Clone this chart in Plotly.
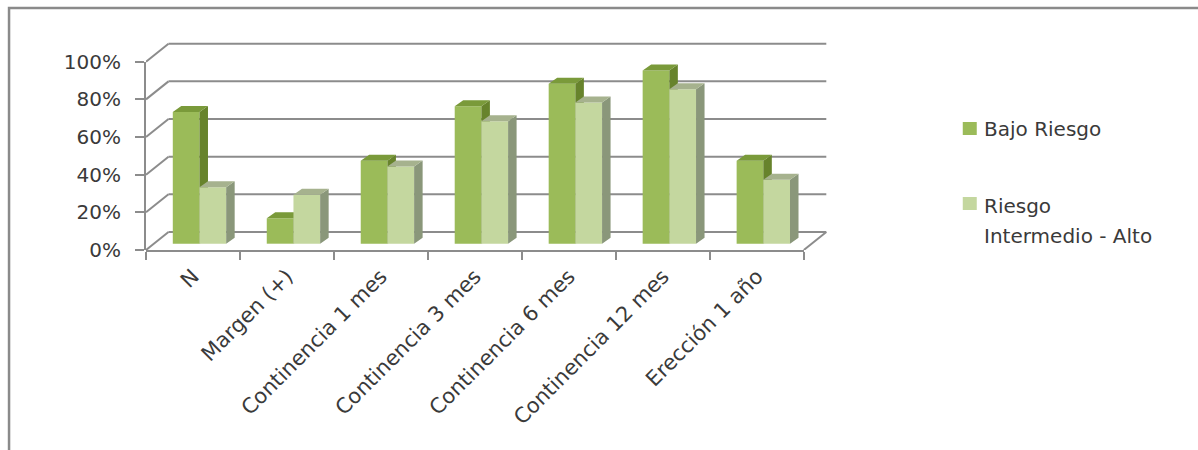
import plotly.graph_objects as go

# ---------------- data ----------------
categories = ["N", "Margen (+)", "Continencia 1 mes", "Continencia 3 mes",
              "Continencia 6 mes", "Continencia 12 mes", "Erección 1 año"]
bajo_riesgo = [70, 13.5, 44, 73, 85, 92, 44]
riesgo_intermedio_alto = [30, 26, 41, 65, 75, 82, 34]
series_names = ["Bajo Riesgo", "Riesgo Intermedio - Alto"]
legend_lines = [["Bajo Riesgo"], ["Riesgo", "Intermedio - Alto"]]
y_tickvals = [0, 20, 40, 60, 80, 100]
y_ticktext = ["0%", "20%", "40%", "60%", "80%", "100%"]

# ---------------- geometry / style ----------------
W, H = 1198, 450
X0_PX = 146.0        # pixel of front x = -0.5
PX_PER_CAT = 94.0
Y0_PX = 250.0        # pixel of front 0 %
PX_PER_PCT = 1.883
XR = [-0.5, 6.8]
YR = [0, 111]

plot_l = X0_PX + (XR[0] + 0.5) * PX_PER_CAT
plot_r = X0_PX + (XR[1] + 0.5) * PX_PER_CAT
plot_b = Y0_PX + (0 - YR[0]) * PX_PER_PCT
plot_t = Y0_PX - YR[1] * PX_PER_PCT
plot_w = plot_r - plot_l
plot_h = plot_b - plot_t

DX = 22.5 / PX_PER_CAT       # wall depth (x)
DY = 18.0 / PX_PER_PCT       # wall depth (y)
BAR_W = 26.7 / PX_PER_CAT
BAR_SHIFT = 6.5 / PX_PER_CAT
BAR_BASE = 6.3 / PX_PER_PCT
BAR_DX = 8.5 / PX_PER_CAT
BAR_DY = 6.0 / PX_PER_PCT

GRID = "#8c8c8c"
TXT = "#3a3a3a"
FONT = "DejaVu Sans"
front_cols = ["#9bbb59", "#c4d79f"]
top_cols = ["#7a9a3a", "#a6b28e"]
side_cols = ["#67832c", "#8a977a"]


def px2paper_x(px):
    return (px - plot_l) / plot_w


def px2paper_y(py):
    return (plot_b - py) / plot_h


n = len(categories)
centers = [
    [i + BAR_SHIFT - BAR_W / 2 for i in range(n)],
    [i + BAR_SHIFT + BAR_W / 2 for i in range(n)],
]
values = [bajo_riesgo, riesgo_intermedio_alto]


def faces(cs, vals):
    tx, ty, sx, sy = [], [], [], []
    for c, v in zip(cs, vals):
        x0, x1 = c - BAR_W / 2, c + BAR_W / 2
        b, top = BAR_BASE, BAR_BASE + v
        tx += [x0, x1, x1 + BAR_DX, x0 + BAR_DX, x0, None]
        ty += [top, top, top + BAR_DY, top + BAR_DY, top, None]
        sx += [x1, x1 + BAR_DX, x1 + BAR_DX, x1, x1, None]
        sy += [b, b + BAR_DY, top + BAR_DY, top, b, None]
    return tx, ty, sx, sy


fig = go.Figure()

# invisible helper traces so the front-axis frames (x3 / y3) get drawn
fig.add_trace(go.Scatter(x=[0], y=[0], xaxis="x3", yaxis="y", mode="markers",
                         marker=dict(opacity=0), showlegend=False, hoverinfo="skip"))
fig.add_trace(go.Scatter(x=[0], y=[0], xaxis="x", yaxis="y3", mode="markers",
                         marker=dict(opacity=0), showlegend=False, hoverinfo="skip"))

axes_pairs = [("x", "y"), ("x2", "y2")]
for k in range(2):
    xa, ya = axes_pairs[k]
    fig.add_trace(go.Bar(
        x=centers[k], y=values[k], base=BAR_BASE, width=BAR_W,
        name=series_names[k], marker=dict(color=front_cols[k], line=dict(width=0)),
        xaxis=xa, yaxis=ya, showlegend=False,
        customdata=categories,
        hovertemplate="%{customdata}: %{y}%<extra>" + series_names[k] + "</extra>",
    ))
    tx, ty, sx, sy = faces(centers[k], values[k])
    fig.add_trace(go.Scatter(x=sx, y=sy, mode="lines", fill="toself",
                             fillcolor=side_cols[k], line=dict(width=0),
                             xaxis=xa, yaxis=ya, showlegend=False, hoverinfo="skip"))
    fig.add_trace(go.Scatter(x=tx, y=ty, mode="lines", fill="toself",
                             fillcolor=top_cols[k], line=dict(width=0),
                             xaxis=xa, yaxis=ya, showlegend=False, hoverinfo="skip"))

shapes = []
# back wall gridlines and left wall diagonals
for v in y_tickvals:
    shapes.append(dict(type="line", xref="x", yref="y", layer="below",
                       x0=-0.5 + DX, y0=v + DY, x1=n - 0.5 + DX, y1=v + DY,
                       line=dict(color=GRID, width=2)))
    shapes.append(dict(type="line", xref="x", yref="y", layer="below",
                       x0=-0.5, y0=v, x1=-0.5 + DX, y1=v + DY,
                       line=dict(color=GRID, width=2)))
# floor right edge
shapes.append(dict(type="line", xref="x", yref="y", layer="below",
                   x0=n - 0.5, y0=0, x1=n - 0.5 + DX, y1=DY,
                   line=dict(color=GRID, width=2)))
# outer chart border
shapes.append(dict(type="rect", xref="paper", yref="paper", layer="above",
                   x0=px2paper_x(9), y0=px2paper_y(8), x1=px2paper_x(1230), y1=px2paper_y(480),
                   line=dict(color="#8a8a8a", width=2.5), fillcolor="rgba(0,0,0,0)"))

# manual legend
annotations = []
leg_sq = [(963, 122), (963, 197)]
leg_text_y = [[128.5], [206, 236]]
for k in range(2):
    sqx, sqy = leg_sq[k]
    shapes.append(dict(type="rect", xref="paper", yref="paper", layer="above",
                       x0=px2paper_x(sqx), x1=px2paper_x(sqx + 14),
                       y0=px2paper_y(sqy), y1=px2paper_y(sqy + 13),
                       line=dict(width=0), fillcolor=front_cols[k]))
    for line_txt, ty in zip(legend_lines[k], leg_text_y[k]):
        annotations.append(dict(xref="paper", yref="paper", x=px2paper_x(982), y=px2paper_y(ty),
                                xanchor="left", yanchor="middle", showarrow=False,
                                text=line_txt, font=dict(family=FONT, size=20, color=TXT)))

fig.update_layout(
    width=W, height=H, autosize=False,
    margin=dict(l=plot_l, r=W - plot_r, t=plot_t, b=H - plot_b, pad=0),
    paper_bgcolor="white", plot_bgcolor="rgba(0,0,0,0)",
    barmode="overlay", showlegend=False,
    font=dict(family=FONT, size=19, color=TXT),
    xaxis=dict(range=XR, tickvals=list(range(n)), ticktext=categories, ticks="",
               tickangle=-45, showgrid=False, zeroline=False, showline=False,
               ticklabelstandoff=9,
               tickfont=dict(family=FONT, size=21, color=TXT)),
    yaxis=dict(range=YR, visible=False),
    xaxis2=dict(range=XR, overlaying="x", visible=False),
    yaxis2=dict(range=YR, overlaying="y", visible=False),
    xaxis3=dict(range=[-0.5, n - 0.5], domain=[0, n / (XR[1] - XR[0])], anchor="y",
                tickvals=[i - 0.5 for i in range(n + 1)], showticklabels=False,
                ticks="outside", ticklen=8, tickwidth=2, tickcolor=GRID,
                showline=True, linecolor=GRID, linewidth=2, showgrid=False, zeroline=False),
    yaxis3=dict(range=[0, 100], domain=[0, 100 / (YR[1] - YR[0])], anchor="x",
                tickvals=y_tickvals, ticktext=y_ticktext,
                ticks="outside", ticklen=9, tickwidth=2, tickcolor=GRID,
                showline=True, linecolor=GRID, linewidth=2, showgrid=False, zeroline=False,
                ticklabelstandoff=10, tickfont=dict(family=FONT, size=20, color=TXT)),
    shapes=shapes, annotations=annotations,
)

fig.write_html("out.html")
